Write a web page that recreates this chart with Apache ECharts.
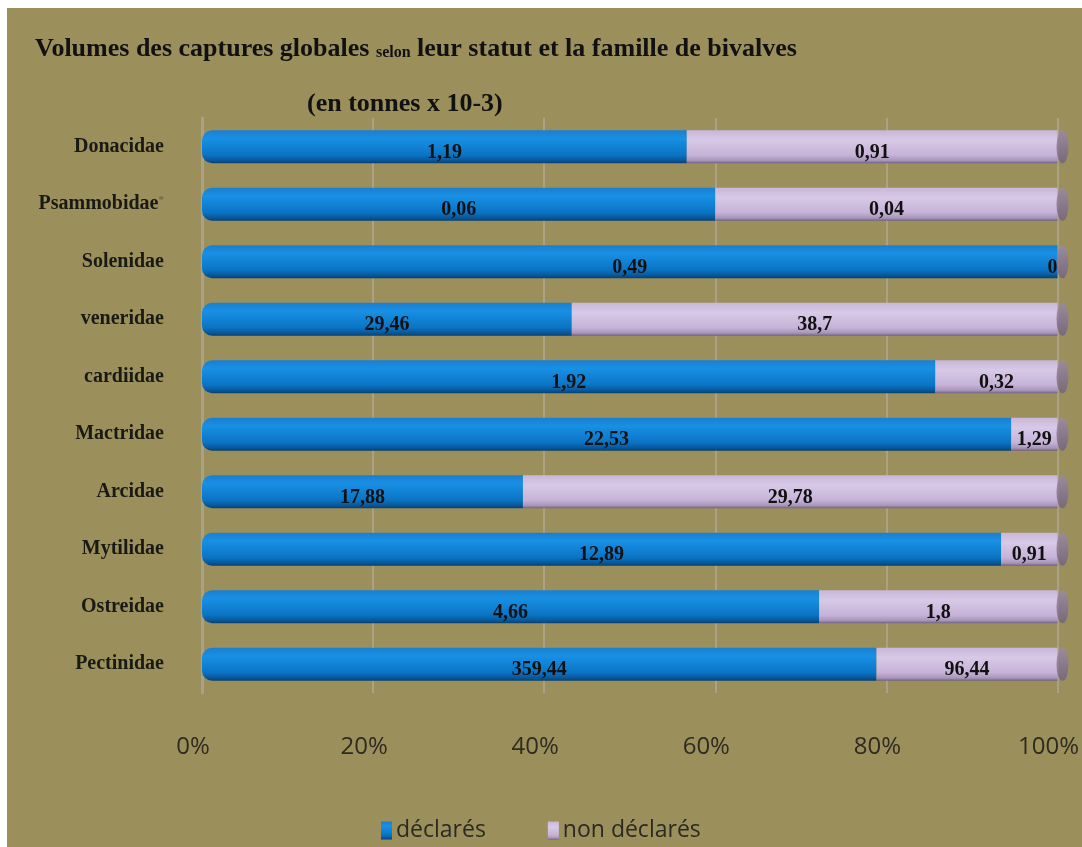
<!DOCTYPE html>
<html><head><meta charset="utf-8">
<script src="https://cdn.jsdelivr.net/npm/echarts@6/dist/echarts.min.js"></script>
<style>
html,body{margin:0;padding:0;background:#ffffff;width:1082px;height:847px;overflow:hidden}
#c{position:absolute;left:7px;top:8px;width:1075px;height:839px}
</style></head>
<body><div id="c"></div>
<script>
const categories = ['Donacidae','Psammobidae*','Solenidae','veneridae','cardiidae','Mactridae','Arcidae','Mytilidae','Ostreidae','Pectinidae'];
const declares = [1.19, 0.06, 0.49, 29.46, 1.92, 22.53, 17.88, 12.89, 4.66, 359.44];
const nonDeclares = [0.91, 0.04, 0, 38.7, 0.32, 1.29, 29.78, 0.91, 1.8, 96.44];
const xTicks = ['0%','20%','40%','60%','80%','100%'];
const seriesNames = ['déclarés','non déclarés'];

const totals = declares.map((v,i)=>v+nonDeclares[i]);
const pct = arr => arr.map((v,i)=>{
  const d = {value: v/totals[i]*100, raw: v};
  if (v === 0) d.label = {offset:[-5,6]};
  return d;
});
const fmt = v => String(v).replace('.', ',');

const chart = echarts.init(document.getElementById('c'));
const serif = '"Liberation Serif","Times New Roman",serif';
const blueGrad = new echarts.graphic.LinearGradient(0,0,0,1,[
  {offset:0,color:'#1a7fcf'},{offset:0.25,color:'#1890e4'},{offset:0.75,color:'#0b74c4'},{offset:0.92,color:'#07569a'},{offset:1,color:'#0a3e6a'}]);
const lilacGrad = new echarts.graphic.LinearGradient(0,0,0,1,[
  {offset:0,color:'#c9b6d9'},{offset:0.3,color:'#d8c9e7'},{offset:0.75,color:'#c6b3d7'},{offset:0.92,color:'#a794ba'},{offset:1,color:'#6f6080'}]);
const labelStyle = {
  show: true, position: 'inside', offset:[0,6],
  color: '#111', fontFamily: serif, fontWeight: 'bold', fontSize: 20,
  formatter: p => fmt(p.data.raw)
};
chart.setOption({
  backgroundColor: '#9b905c',
  animation: false,
  title: [
    { text: '{a|Volumes des captures globales }{b|selon}{a| leur statut et la famille de bivalves}',
      left: 28, top: 28, padding: 0,
      textStyle: { rich: {
        a: {fontFamily: serif, fontWeight:'bold', fontSize: 26, color:'#111'},
        b: {fontFamily: serif, fontWeight:'bold', fontSize: 16, color:'#111', padding:[8,0,0,0]} } } },
    { text: '(en tonnes x 10-3)', left: 300, top: 83, padding: 0,
      textStyle: {fontFamily: serif, fontWeight:'bold', fontSize: 26, color:'#111'} }
  ],
  legend: {
    data: seriesNames, left: 369, top: 806, itemGap: 62,
    itemWidth: 11, itemHeight: 18, icon: 'rect',
    textStyle: {fontFamily: '"Open Sans","Liberation Sans",sans-serif', fontSize: 23, color: '#2a2a22', padding:[0,0,0,-1]}
  },
  grid: { left: 195, right: 20, top: 110, bottom: 154, containLabel: false },
  xAxis: {
    type: 'value', min: 0, max: 100, interval: 20,
    axisLine: {show:false}, axisTick: {show:false},
    splitLine: {show:true, lineStyle:{color:'#aaa283', width:2}},
    axisLabel: { margin: 42, fontSize: 24, color: '#2e2b20', fontFamily: '"Open Sans","Liberation Sans",sans-serif',
      padding:[0,18,0,0], formatter: v => xTicks[Math.round(v/20)] }
  },
  yAxis: {
    type: 'category', data: categories, inverse: true,
    axisLine: {show:true, lineStyle:{color:'#a9a286', width:3}},
    axisTick: {show:false},
    axisLabel: { margin: 38, fontFamily: serif, fontWeight:'bold', fontSize: 20, color:'#1a1a14',
      formatter: v => v.endsWith('*') ? v.slice(0,-1) + '{s|*}' : v,
      rich: { s: {fontSize: 11, color:'#6b6650', padding:[0,0,8,0], fontFamily: serif} } }
  },
  series: [
    { name: seriesNames[0], type: 'bar', stack: 'tot', barWidth: 33,
      itemStyle: {color: blueGrad, borderRadius:[10,0,0,10]},
      label: labelStyle, data: pct(declares) },
    { name: seriesNames[1], type: 'bar', stack: 'tot', barWidth: 33,
      itemStyle: {color: lilacGrad},
      label: labelStyle, data: pct(nonDeclares) },
    { name: 'cap', type: 'scatter', symbol: 'circle', symbolSize: [12, 33], symbolOffset: [5, 0],
      clip: false, silent: true, z: 5,
      itemStyle: {color: new echarts.graphic.LinearGradient(0,0,0,1,[{offset:0,color:'#9a8aac'},{offset:1,color:'#6e6080'}])},
      data: categories.map(()=>100) }
  ]
});
</script></body></html>
